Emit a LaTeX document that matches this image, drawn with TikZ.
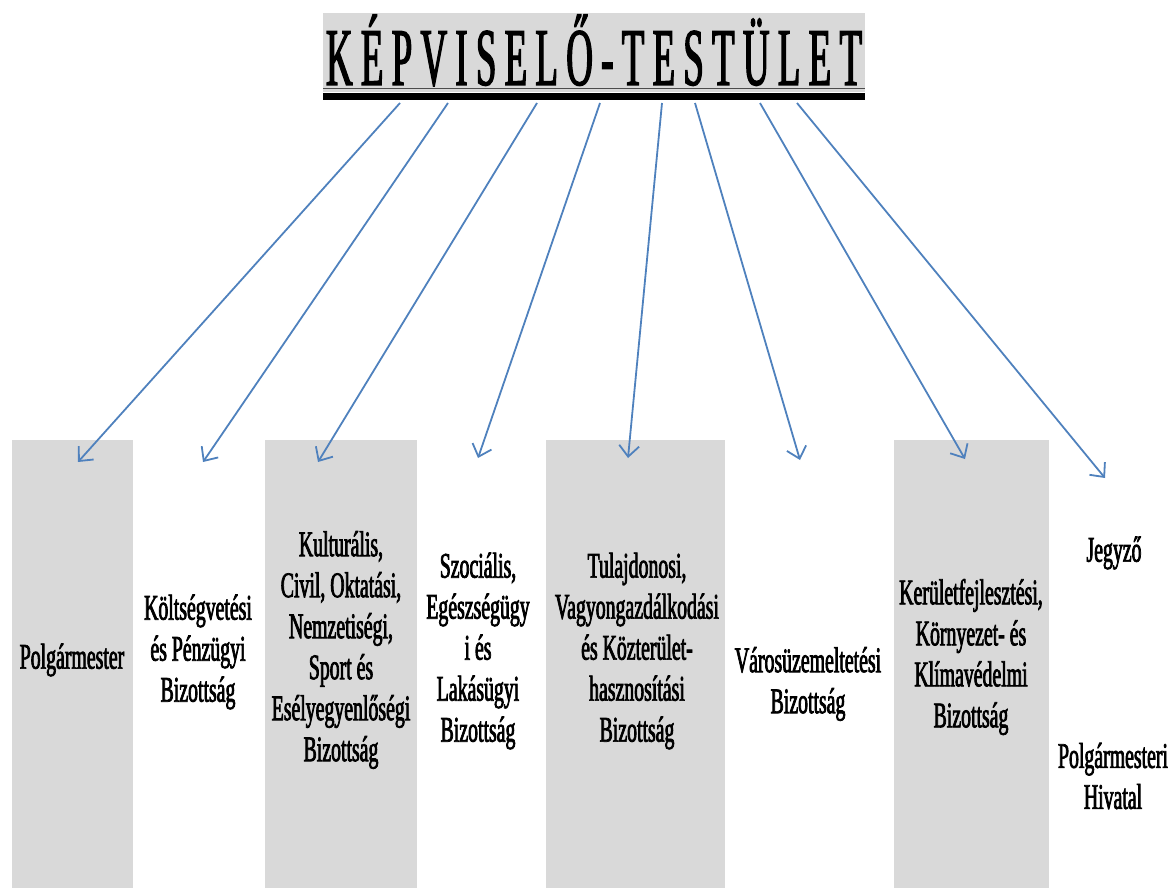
\documentclass[tikz,border=0pt]{standalone}
\usepackage{fontspec}
\setmainfont{Liberation Serif}
\newfontfamily\boxfont{Liberation Serif}[FakeStretch=0.55,FakeBold=2]
\newfontfamily\titlefont{Liberation Serif}[FakeStretch=0.45,FakeBold=1.5]
\usetikzlibrary{arrows.meta}
\definecolor{boxgray}{HTML}{D9D9D9}
\definecolor{arrowblue}{HTML}{4F81BD}
\begin{document}
\begin{tikzpicture}[x=1pt,y=-1pt,
  graybox/.style={fill=boxgray,draw=none,inner sep=0pt,anchor=north west},
  label/.style={align=center,inner sep=0pt,font=\boxfont\fontsize{36}{41}\selectfont},
  conn/.style={draw=arrowblue,line width=1.8pt,-{Straight Barb[length=11pt,width=20pt,line width=1.8pt]}}]
\useasboundingbox (0,0) rectangle (1172,888);
% title
\node[graybox,minimum width=542pt,minimum height=79pt] (title) at (323,13) {};
\node[anchor=base,inner sep=0pt] (titletext) at (594,85)
  {\titlefont\fontsize{82}{82}\selectfont\makebox[536pt][s]{K\hfil É\hfil P\hfil V\hfil I\hfil S\hfil E\hfil L\hfil Ő\hfil -\hfil T\hfil E\hfil S\hfil T\hfil Ü\hfil L\hfil E\hfil T}};
\fill[black!70] (323,88) rectangle (865,89.5);
\fill[black] (323,93) rectangle (865,100);
% gray boxes
\node[graybox,minimum width=121pt,minimum height=450pt] (b1) at (12,440) {};
\node[graybox,minimum width=152pt,minimum height=450pt] (b3) at (265,440) {};
\node[graybox,minimum width=179pt,minimum height=450pt] (b5) at (546,440) {};
\node[graybox,minimum width=155pt,minimum height=450pt] (b7) at (894,440) {};
% labels
\node[label] (t1) at (72,660) {Polgármester};
\node[label] (t2) at (198,652) {Költségvetési\\és Pénzügyi\\Bizottság};
\node[label] (t3) at (341,650) {Kulturális,\\Civil, Oktatási,\\Nemzetiségi,\\Sport és\\Esélyegyenlőségi\\Bizottság};
\node[label] (t4) at (478,651) {Szociális,\\Egészségügy\\i és\\Lakásügyi\\Bizottság};
\node[label] (t5) at (637,651) {Tulajdonosi,\\Vagyongazdálkodási\\és Közterület-\\hasznosítási\\Bizottság};
\node[label] (t6) at (808,684) {Városüzemeltetési\\Bizottság};
\node[label] (t7) at (971,657) {Kerületfejlesztési,\\Környezet- és\\Klímavédelmi\\Bizottság};
\node[label] (t8) at (1114,553) {Jegyző};
\node[label] (t9) at (1113,776) {Polgármesteri\\Hivatal};
% arrow end points
\coordinate (s1) at (400,103); \coordinate (e1) at (78,462);
\coordinate (s2) at (448,103); \coordinate (e2) at (203,462);
\coordinate (s3) at (537,103); \coordinate (e3) at (318,462);
\coordinate (s4) at (600,103); \coordinate (e4) at (478,458);
\coordinate (s5) at (662,103); \coordinate (e5) at (628,458);
\coordinate (s6) at (695,103); \coordinate (e6) at (800,460);
\coordinate (s7) at (760,103); \coordinate (e7) at (965,459);
\coordinate (s8) at (797,103); \coordinate (e8) at (1105,478);
\foreach \i in {1,...,8} {\draw[conn] (s\i) -- (e\i);}
\end{tikzpicture}
\end{document}
